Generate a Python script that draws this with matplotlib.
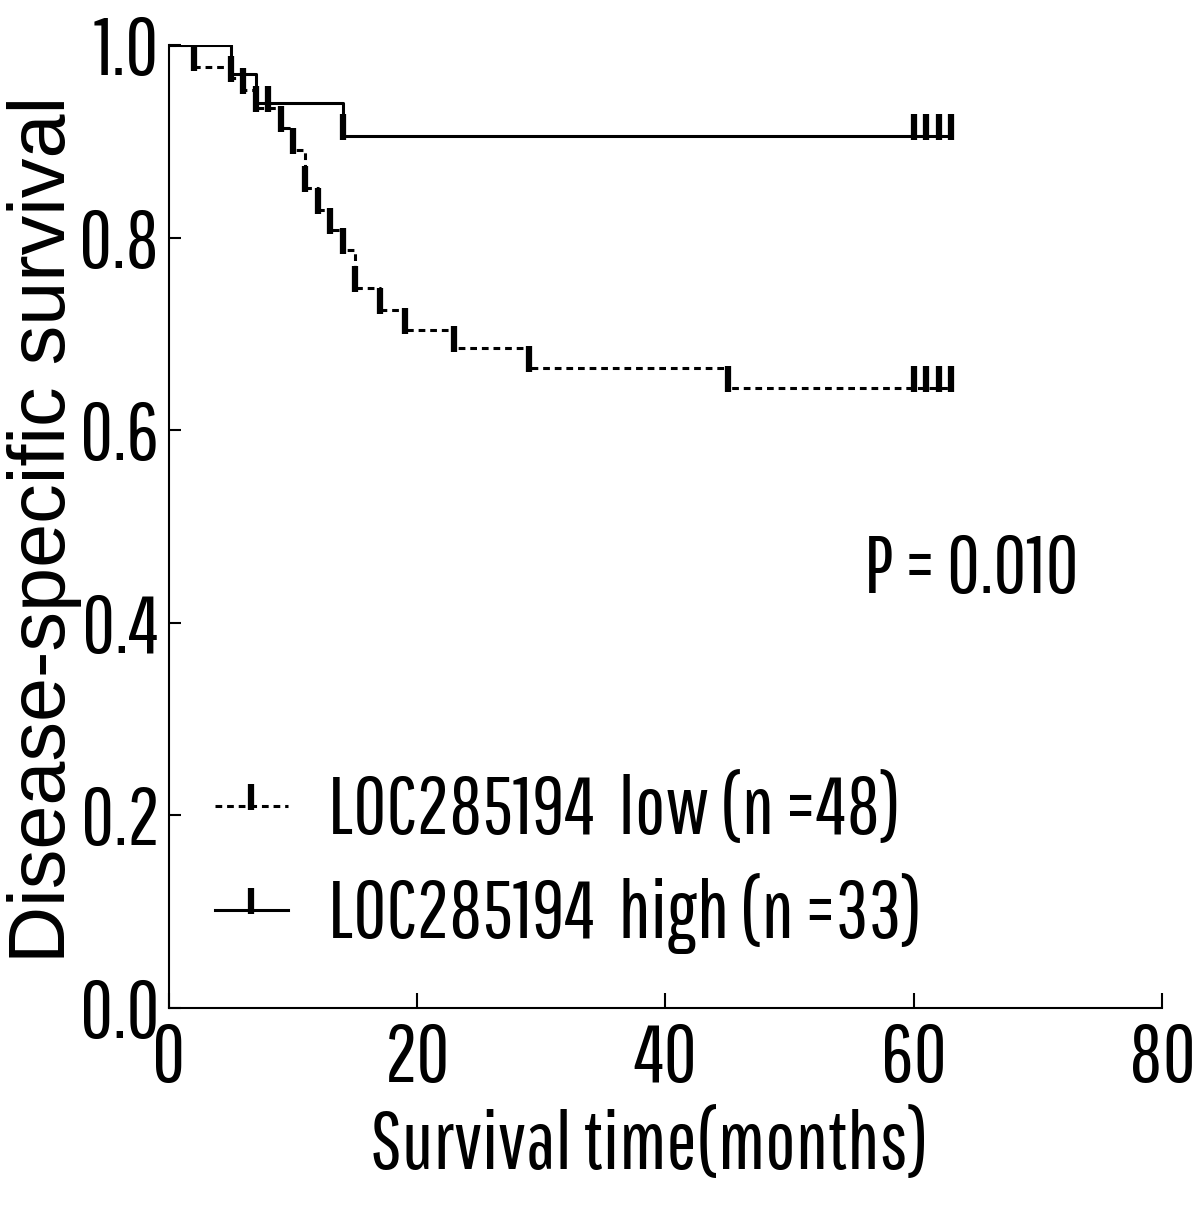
import matplotlib
matplotlib.use("Agg")
import matplotlib.pyplot as plt
from matplotlib import font_manager
from matplotlib.path import Path
from matplotlib.lines import Line2D

# ---- data ----
low_times = [0, 2, 5, 6, 7, 9, 10, 11, 12, 13, 14, 15, 17, 19, 23, 29, 45, 63]
low_surv = [1.0, 0.977, 0.966, 0.953, 0.935, 0.914, 0.891, 0.851, 0.829, 0.808,
            0.787, 0.748, 0.725, 0.704, 0.685, 0.665, 0.644, 0.644]
low_censor = [2, 5, 6, 7, 8, 9, 10, 11, 12, 13, 14, 15, 17, 19, 23, 29, 45, 60, 61, 62, 63]

high_times = [0, 5, 7, 14, 63]
high_surv = [1.0, 0.970, 0.940, 0.906, 0.906]
high_censor = [14, 60, 61, 62, 63]

x_ticks = [0, 20, 40, 60, 80]
y_ticks = [0.0, 0.2, 0.4, 0.6, 0.8, 1.0]
low_label = "LOC285194  low (n =48)"
high_label = "LOC285194  high (n =33)"
p_text = "P = 0.010"
x_title = "Survival time(months)"
y_title = "Disease-specific survival"

# ---- fonts ----
names = {f.name for f in font_manager.fontManager.ttflist}
prefs = ["Pathway Gothic One", "Barlow Condensed", "Saira ExtraCondensed",
         "Roboto Condensed", "Liberation Sans"]
fam = next((p for p in prefs if p in names), "DejaVu Sans")
plt.rcParams['font.family'] = [fam, 'DejaVu Sans']
yfam = ["Liberation Sans", "DejaVu Sans"]

FS = 58

def surv_at(times, surv, t):
    val = surv[0]
    for tt, ss in zip(times, surv):
        if tt <= t:
            val = ss
    return val

censor_marker = Path([(0, -0.2), (0, 1.0)], [Path.MOVETO, Path.LINETO])
DASH = (0, (2.2, 1.6))

fig = plt.figure(figsize=(12, 12.16), dpi=100)
ax = fig.add_axes([0.1408, 0.171, 0.8275, 0.792])

ax.step(low_times, low_surv, where='post', color='black', lw=2.2, linestyle=DASH)
ax.step(high_times, high_surv, where='post', color='black', lw=2.2)

ax.plot(low_censor, [surv_at(low_times, low_surv, t) for t in low_censor],
        linestyle='none', marker=censor_marker, markersize=32,
        markeredgewidth=4.5, color='black')
ax.plot(high_censor, [surv_at(high_times, high_surv, t) for t in high_censor],
        linestyle='none', marker=censor_marker, markersize=32,
        markeredgewidth=4.5, color='black')

ax.set_xlim(0, 80)
ax.set_ylim(0, 1.0)
ax.set_xticks(x_ticks)
ax.set_yticks(y_ticks)
ax.set_xticklabels([str(v) for v in x_ticks])
ax.set_yticklabels([f"{v:.1f}" for v in y_ticks])
for s in ['top', 'right']:
    ax.spines[s].set_visible(False)
for s in ['left', 'bottom']:
    ax.spines[s].set_linewidth(1.5)
ax.tick_params(direction='in', width=1.5, labelsize=FS)
ax.tick_params(axis='x', length=11, pad=10)
ax.tick_params(axis='y', length=8.6, pad=7)

ax.set_xlabel(x_title, fontsize=FS)
ax.xaxis.set_label_coords(0.484, -0.143)
ax.xaxis.label.set_va('center')

fig.text(0.054, 0.5645, y_title, fontsize=57, family=yfam, rotation=90,
         rotation_mode='anchor', ha='center', va='baseline')

ax.text(56.0, 0.455, p_text, fontsize=FS, va='center', ha='left')

h_low = Line2D([], [], color='black', lw=2.2, linestyle=DASH,
               marker=censor_marker, markersize=32, markeredgewidth=4.5)
h_high = Line2D([], [], color='black', lw=2.2,
                marker=censor_marker, markersize=32, markeredgewidth=4.5)
ax.legend([h_low, h_high], [low_label, high_label], loc='upper left',
          bbox_to_anchor=(0.014, 0.276), frameon=False, fontsize=FS,
          numpoints=1, handlelength=0.9, handletextpad=0.5, labelspacing=0.3,
          borderaxespad=0)

fig.savefig("out.png", dpi=100, facecolor='white')
